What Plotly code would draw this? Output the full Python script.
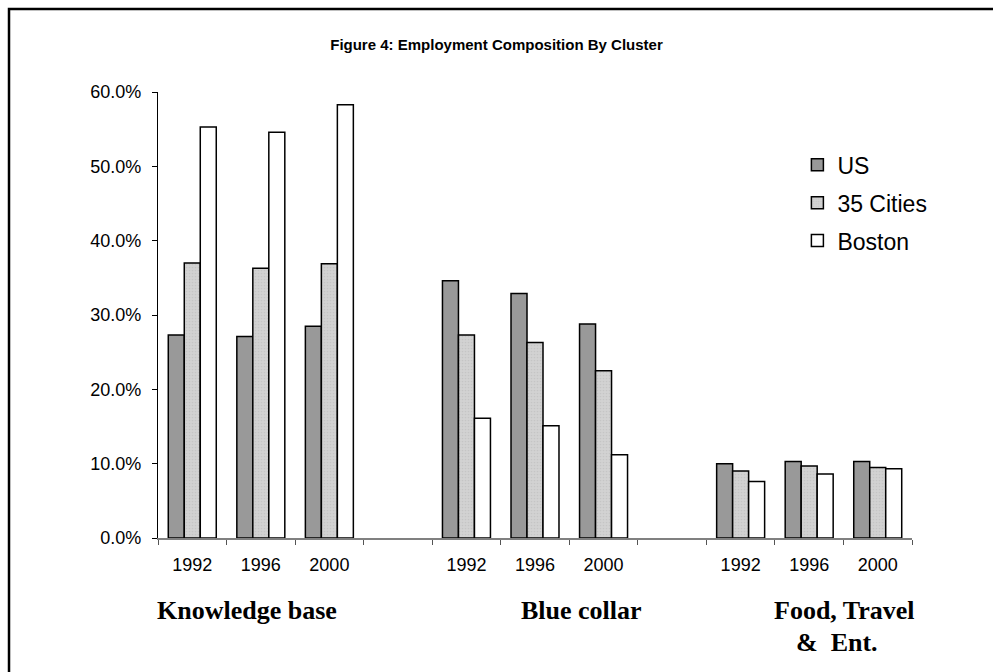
import plotly.graph_objects as go

categories = ["KB-1992", "KB-1996", "KB-2000", "gap-1",
              "BC-1992", "BC-1996", "BC-2000", "gap-2",
              "FT-1992", "FT-1996", "FT-2000"]
year_labels = ["1992", "1996", "2000", "",
               "1992", "1996", "2000", "",
               "1992", "1996", "2000"]
us = [0.273, 0.271, 0.285, None, 0.346, 0.329, 0.288, None, 0.100, 0.103, 0.103]
cities35 = [0.370, 0.363, 0.369, None, 0.273, 0.263, 0.225, None, 0.090, 0.097, 0.095]
boston = [0.553, 0.546, 0.583, None, 0.161, 0.151, 0.112, None, 0.076, 0.086, 0.093]
series_names = ["US", "35 Cities", "Boston"]
cluster_names = ["Knowledge base", "Blue collar", "Food, Travel", "&  Ent."]
title_text = "Figure 4: Employment Composition By Cluster"

ARIAL = "Liberation Sans, Arial, sans-serif"
TIMES = "Liberation Serif, Times New Roman, serif"

fig = go.Figure()
fig.add_trace(go.Bar(
    x=categories, y=us, name=series_names[0], legendgroup="a",
    marker=dict(color="#999999", line=dict(color="black", width=1.5)),
))
fig.add_trace(go.Bar(
    x=categories, y=cities35, name=series_names[1], legendgroup="b",
    marker=dict(color="#cccccc", line=dict(color="black", width=1.5),
                pattern=dict(shape=".", size=3, solidity=0.25,
                             fgcolor="#b8b8b8", bgcolor="#d2d2d2")),
))
fig.add_trace(go.Bar(
    x=categories, y=boston, name=series_names[2], legendgroup="c",
    marker=dict(color="#ffffff", line=dict(color="black", width=1.5)),
))

fig.update_layout(
    width=993, height=672,
    margin=dict(l=158, r=81, t=92, b=134),
    paper_bgcolor="white", plot_bgcolor="white",
    barmode="group", bargap=0.3, bargroupgap=0,
    title=dict(text=title_text, x=0.5, xanchor="center", y=1 - 45 / 672,
               yanchor="middle",
               font=dict(family=ARIAL, size=15, color="black", weight="bold")),
    font=dict(family=ARIAL, color="black"),
    legend=dict(x=0.848, y=0.885, xanchor="left", yanchor="top",
                font=dict(family=ARIAL, size=23, color="black"),
                traceorder="grouped", tracegroupgap=5,
                bgcolor="rgba(0,0,0,0)"),
    showlegend=True,
)

fig.update_xaxes(
    type="category", categoryorder="array", categoryarray=categories,
    tickmode="array", tickvals=categories, ticktext=year_labels,
    tickson="boundaries", ticks="outside", ticklen=5, tickcolor="#555555",
    showline=True, linecolor="#808080", linewidth=1.5,
    tickfont=dict(family=ARIAL, size=18, color="black"),
    ticklabelstandoff=10,
    showgrid=False, zeroline=False,
)
fig.update_yaxes(
    range=[0, 0.6], tickmode="linear", tick0=0, dtick=0.1, tickformat=".1%",
    ticks="outside", ticklen=5, tickcolor="black",
    showline=True, linecolor="black", linewidth=1.2,
    tickfont=dict(family=ARIAL, size=18, color="black"),
    ticklabelstandoff=7,
    showgrid=False, zeroline=False,
)

# cluster labels below the axis
label_pos = [(0.118, -0.162), (0.562, -0.162), (0.911, -0.162), (0.900, -0.234)]
for txt, (px, py) in zip(cluster_names, label_pos):
    fig.add_annotation(text="<b>%s</b>" % txt, xref="paper", yref="paper",
                       x=px, y=py, xanchor="center", yanchor="middle",
                       showarrow=False,
                       font=dict(family=TIMES, size=26, color="black"))

# chart-area border (right and bottom edges run off the page)
fig.add_shape(type="rect", xref="paper", yref="paper",
              x0=-0.1976, x1=1.3, y0=-0.5, y1=1.186,
              line=dict(color="black", width=2.5), layer="above")

fig.write_html("out.html",
               config={"displayModeBar": False},
               post_script="document.body.style.margin='0';"
                           "document.body.style.overflow='hidden';")
